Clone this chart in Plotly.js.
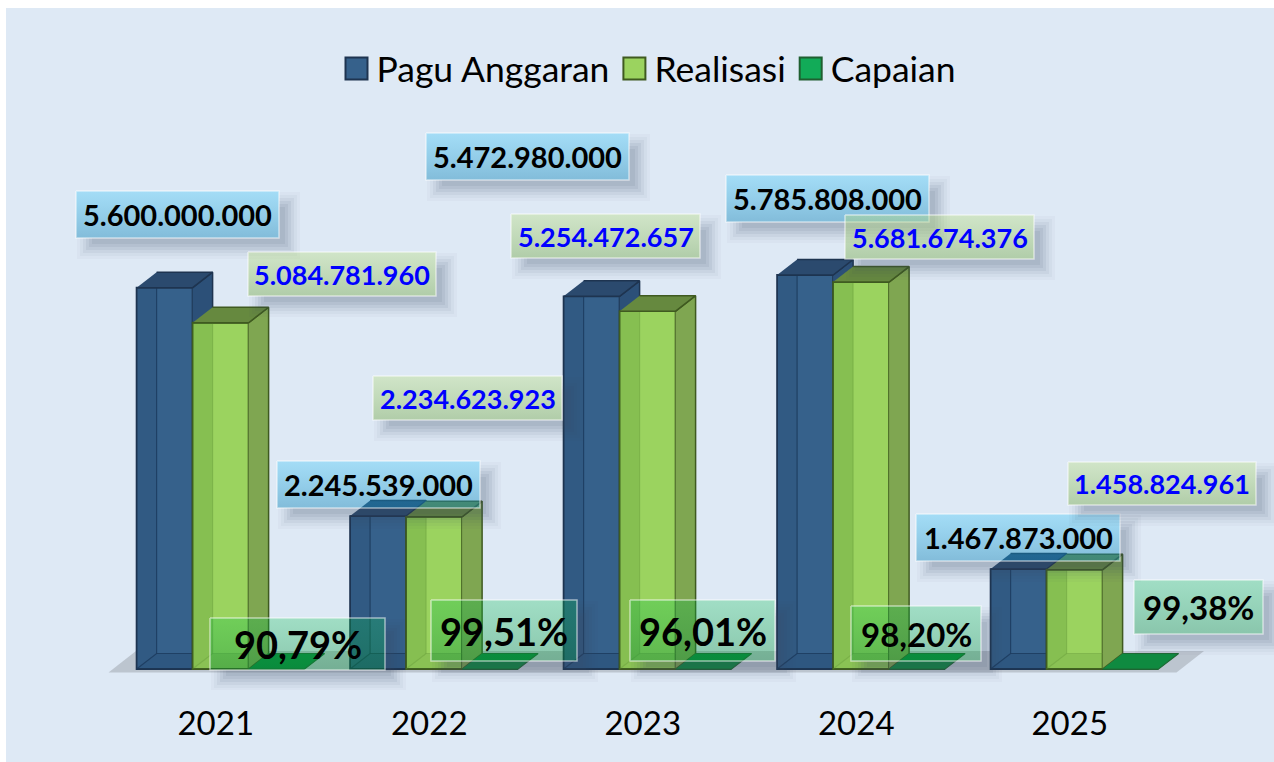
<!DOCTYPE html>
<html><head><meta charset="utf-8">
<script src="https://cdn.plot.ly/plotly-3.0.1.min.js"></script>
<style>html,body{margin:0;padding:0;background:#fff}#c{width:1274px;height:762px}</style>
</head><body><div id="c"></div>
<script>
const years = ['2021','2022','2023','2024','2025'];
const pagu = [5600000000,2245539000,5472980000,5785808000,1467873000];
const realisasi = [5084781960,2234623923,5254472657,5681674376,1458824961];
const capaian = [90.79,99.51,96.01,98.20,99.38];

// px geometry
const W=1274,H=762,plotB=690,zeroPx=669,catPx=213.5,cat0=215.75,scale=68.1e-9;
const fromLeft=136.6-cat0, barPx=56, dxPx=20, dyPx=15.5;
const X=p=>(p-cat0)/catPx, Y=p=>(zeroPx-p)/scale;
const dX=dxPx/catPx, dY=dyPx/scale, bw=barPx/catPx, off0=fromLeft/catPx;
const xs=years.map((_,i)=>i);
const FONT='Lato, Carlito, Calibri, sans-serif';

// label box placement (left, top, right, bottom in px)
const paguBoxes=[[76,191,279,238],[277,461,480,508],[426,133,629,180],[726,175,929,222],[916,514,1120,561]];
const realBoxes=[[248,252,436,296],[373,376,562,420],[511,214,700,258],[845,215,1034,259],[1068,462,1256,505]];
const capBoxes=[[210,618,385,670],[431,600,577,661],[630,600,775,661],[851,606,981,661],[1134,580,1263,634]];
const capFont=[38,38,38,33,33];

const fmtNum=v=>String(v).replace(/\B(?=(\d{3})+(?!\d))/g,'.');
const fmtPct=v=>v.toFixed(2).replace('.',',')+'%';

function poly(ax,px,py,fill,line,lw){
  return {type:'scatter',mode:line?'lines':'none',x:px,y:py,fill:'toself',fillcolor:fill,
    line:{color:line||'rgba(0,0,0,0)',width:lw||1.5},xaxis:ax[0],yaxis:ax[1],showlegend:false,hoverinfo:'skip'};
}
function edge(ax,px,py,c,lw){
  return {type:'scatter',mode:'lines',x:px,y:py,line:{color:c,width:lw||1.2},xaxis:ax[0],yaxis:ax[1],showlegend:false,hoverinfo:'skip'};
}
function barTrace(name,vals,i,ax,color,line){
  return {type:'bar',name:name,x:xs,y:vals,width:bw,offset:off0+i*bw,xaxis:ax[0],yaxis:ax[1],
    marker:{color:color,line:{color:line,width:1.8}},hoverinfo:'skip'};
}
function faces(vals,i,ax,st){
  const out=[];
  vals.forEach((v,k)=>{
    const a=k+off0+i*bw,b=a+bw;
    out.push(poly(ax,[a,a+dX,a+dX,a],[0,dY,v,v],st.band));
    out.push(poly(ax,[a,b,b+dX,a+dX],[0,0,dY,dY],st.floor));
    out.push(edge(ax,[a+dX,a+dX],[dY,v],st.inner));
    out.push(edge(ax,[a,a+dX,b+dX],[0,dY,dY],st.inner));
    out.push(poly(ax,[b,b+dX,b+dX,b],[0,dY,v+dY,v],st.side,st.line));
    out.push(poly(ax,[a,b,b+dX,a+dX],[v,v,v+dY,v+dY],st.top,st.line));
  });
  return out;
}
const A1=['x','y'],A2=['x2','y2'];
const blueSt={band:'rgba(25,60,95,0.18)',floor:'rgba(25,60,95,0.25)',inner:'rgba(25,55,90,0.75)',side:'#2C5078',top:'#2B4A6E',line:'#1E3450'};
const greenSt={band:'rgba(70,130,40,0.25)',floor:'rgba(70,130,40,0.2)',inner:'rgba(90,140,50,0.3)',side:'#7FA651',top:'#66893F',line:'#3F5A20'};

const traces=[];
traces.push(barTrace('Pagu Anggaran',pagu,0,A1,'#36618B','#1E3450'));
traces.push(...faces(pagu,0,A1,blueSt));
traces.push(barTrace('Realisasi',realisasi,1,A2,'#9BD35F','#3F5A20'));
traces.push(barTrace('Capaian',capaian,2,A2,'#12AB58','#1F5F30'));
traces.push(...faces(realisasi,1,A2,greenSt));
capaian.forEach((v,k)=>{
  const a=k+off0+2*bw,b=a+bw;
  traces.push(poly(A2,[a,b,b+dX,a+dX],[v,v,v+dY,v+dY],'#0F8A40','#1F6A35',1.2));
});

function rectX(l,r){return [X(l),X(r),X(r),X(l),X(l)];}
function rectY(t,b){return [Y(t),Y(t),Y(b),Y(b),Y(t)];}
function addBox(bx,top,bottom){
  const [l,t,r,b]=bx, o=11;
  [[10,0.03],[7,0.04],[4,0.055],[1,0.07],[-2,0.08],[-5,0.08]].forEach(([e,al])=>{
    const sl=l+o-e,st=t+o-e,sr=r+o+e,sb=b+o+e;
    // L-shaped: the shadow only falls outside the translucent box
    traces.push(poly(A2,[r,sr,sr,sl,sl,r,r].map(X),[st,st,sb,sb,b,b,st].map(Y),'rgba(60,75,100,'+al+')'));
  });
  const t0=poly(A2,rectX(l,r),rectY(t,b),top,'rgba(255,255,255,0.55)',1.5);
  t0.fillgradient={type:'vertical',colorscale:[[0,bottom],[1,top]]};
  traces.push(t0);
}
const annotations=[];
function addLabel(bx,text,color,size){
  annotations.push({x:X((bx[0]+bx[2])/2),y:Y((bx[1]+bx[3])/2),xref:'x',yref:'y',text:'<b>'+text+'</b>',showarrow:false,
    xanchor:'center',yanchor:'middle',font:{family:FONT,size:size,color:color}});
}
paguBoxes.forEach((b,i)=>{addBox(b,'rgba(54,197,248,0.35)','rgba(18,133,184,0.45)');addLabel(b,fmtNum(pagu[i]),'#000000',29);});
realBoxes.forEach((b,i)=>{addBox(b,'rgba(187,222,132,0.40)','rgba(130,176,92,0.50)');addLabel(b,fmtNum(realisasi[i]),'#0000FF',27);});
capBoxes.forEach((b,i)=>{addBox(b,'rgba(3,192,73,0.28)','rgba(0,139,53,0.38)');addLabel(b,fmtPct(capaian[i]),'#000000',capFont[i]);});

const rangeX=[X(0),X(W)],rangeY=[Y(plotB),Y(0)];
const fl=[[108.5,672.5],[1176.5,672.5],[1204,651],[136,651]].map(p=>[X(p[0]),Y(p[1])]);
const layout={
  width:W,height:H,margin:{l:0,r:0,t:0,b:H-plotB,pad:0},paper_bgcolor:'#fff',plot_bgcolor:'rgba(0,0,0,0)',
  barmode:'overlay',showlegend:true,
  xaxis:{range:rangeX,tickmode:'array',tickvals:xs,ticktext:years,ticks:'outside',ticklen:4,tickcolor:'rgba(0,0,0,0)',
    showgrid:false,zeroline:false,showline:false,tickfont:{family:FONT,size:33,color:'#000'},fixedrange:true},
  yaxis:{range:rangeY,visible:false,showgrid:false,zeroline:false,fixedrange:true},
  xaxis2:{range:rangeX,overlaying:'x',visible:false,fixedrange:true},
  yaxis2:{range:rangeY,overlaying:'y',visible:false,fixedrange:true},
  legend:{orientation:'h',x:649/W,xanchor:'center',y:1-69/plotB,yanchor:'middle',bgcolor:'rgba(0,0,0,0)',
    font:{family:FONT,size:35.5,color:'#000'},itemclick:false,itemdoubleclick:false},
  shapes:[
    {type:'rect',layer:'below',xref:'paper',yref:'paper',x0:6/W,x1:1,y0:1-8/plotB,y1:-(H-plotB)/plotB,fillcolor:'#DEE9F5',line:{width:0}},
    {type:'path',layer:'below',xref:'x',yref:'y',path:'M'+fl.map(p=>p.join(',')).join('L')+'Z',fillcolor:'#BCC5CF',line:{width:0}}
  ],
  annotations:annotations
};
Plotly.newPlot('c',traces,layout,{displayModeBar:false,staticPlot:true}).then(gd=>{
  gd.querySelectorAll('.legend .legendpoints path').forEach(p=>{p.setAttribute('d','M11,11H-11V-11H11Z');p.style.strokeWidth='2px';});
});
</script></body></html>
